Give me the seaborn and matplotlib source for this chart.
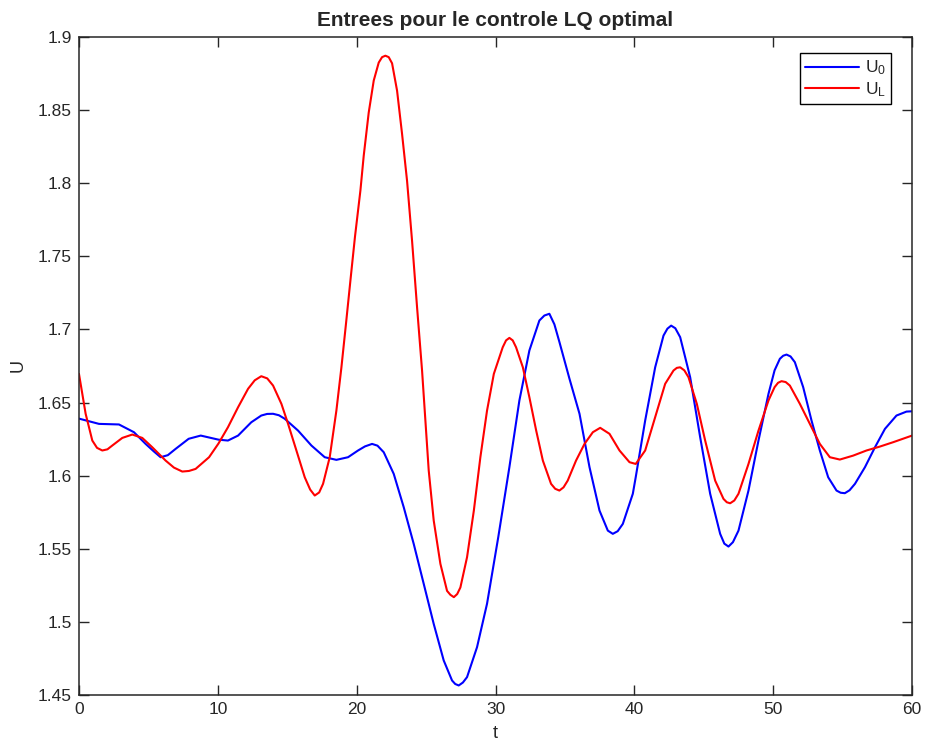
import numpy as np
import pandas as pd
import matplotlib
matplotlib.use("Agg")
import matplotlib.pyplot as plt
import seaborn as sns

# ---- data ----
t_u0 = [0, 1.44, 2.88, 3.96, 4.8, 5.4, 5.88, 6.4, 6.96, 7.9, 8.77, 10.05, 10.73, 11.46,
        12.41, 13.13, 13.55, 13.98, 14.4, 14.82, 15.78, 16.74, 17.7, 18.54, 19.38, 20.1,
        20.6, 21.11, 21.5, 21.95, 22.67, 23.39, 24.11, 24.83, 25.55, 26.27, 26.87, 27.1,
        27.35, 27.65, 27.95, 28.67, 29.39, 30.2, 31.0, 31.72, 32.44, 33.16, 33.52, 33.88,
        34.24, 34.6, 35.32, 36.05, 36.77, 37.49, 38.09, 38.45, 38.8, 39.17, 39.89,
        40.1, 40.78, 41.5, 42.1, 42.38, 42.65, 42.95, 43.3, 44.02, 44.74, 45.46, 46.18,
        46.48, 46.78, 47.1, 47.5, 48.22, 48.94, 49.66, 50.1, 50.48, 50.72, 50.96,
        51.25, 51.56, 52.16, 52.76, 53.36, 53.96, 54.56, 54.86, 55.16, 55.5, 55.89,
        56.61, 57.33, 58.05, 58.88, 59.6, 60]
u0 = [1.639, 1.6354, 1.635, 1.6297, 1.6217, 1.6165, 1.6126, 1.614, 1.6183, 1.6252,
      1.6274, 1.6246, 1.624, 1.6274, 1.6365, 1.6411, 1.6422, 1.6423, 1.6413, 1.6389,
      1.6308, 1.6206, 1.6126, 1.6108, 1.6126, 1.6172, 1.62, 1.6217, 1.6205, 1.616,
      1.6012, 1.5784, 1.5533, 1.526, 1.4986, 1.4736, 1.4599, 1.4575, 1.4565, 1.4585,
      1.4622, 1.4827, 1.5124, 1.558, 1.6058, 1.6514, 1.6856, 1.7061, 1.7095, 1.7107,
      1.7035, 1.6915, 1.6665, 1.6423, 1.6058, 1.5761, 1.5624, 1.5602, 1.562, 1.567,
      1.5876, 1.599, 1.6377, 1.6741, 1.6958, 1.7005, 1.7026, 1.7008, 1.6947, 1.6673,
      1.6263, 1.5876, 1.5602, 1.5535, 1.5515, 1.5545, 1.5624, 1.5898, 1.624, 1.6559,
      1.672, 1.6799, 1.682, 1.6828, 1.6815, 1.6776, 1.6605, 1.6377, 1.6172, 1.5989,
      1.5898, 1.5883, 1.588, 1.59, 1.5944, 1.6058, 1.6194, 1.632, 1.6411, 1.6438, 1.644]

t_ul = [0, 0.48, 0.96, 1.3, 1.68, 2.05, 2.4, 3.12, 3.84, 4.56, 5.28, 6.24, 6.84, 7.44,
        7.92, 8.4, 9.37, 10.05, 10.73, 11.46, 12.18, 12.66, 13.13, 13.56, 13.98, 14.58,
        15.06, 15.66, 16.26, 16.65, 16.98, 17.3, 17.58, 18.06, 18.54, 18.9, 19.24,
        19.58, 19.88, 20.27, 20.51, 20.87, 21.23, 21.59, 21.83, 22.07, 22.31, 22.55,
        22.91, 23.27, 23.63, 23.99, 24.35, 24.71, 24.95, 25.19, 25.55, 26.03, 26.51,
        26.75, 27.0, 27.24, 27.47, 27.95, 28.44, 28.91, 29.39, 29.88, 30.52, 30.76,
        31.0, 31.24, 31.48, 31.97, 32.44, 32.93, 33.41, 34.0, 34.3, 34.6, 34.9, 35.2,
        35.8, 36.41, 37.01, 37.54, 38.21, 38.93, 39.65, 40.1, 40.78, 41.5, 42.22,
        42.82, 43.06, 43.3, 43.6, 43.9, 44.5, 45.1, 45.82, 46.42, 46.66, 46.9, 47.2,
        47.5, 48.22, 48.94, 49.66, 50.1, 50.35, 50.6, 50.9, 51.2, 51.92, 52.64, 53.36,
        54.08, 54.8, 55.76, 56.72, 57.69, 58.65, 60]
ul = [1.6696, 1.6423, 1.624, 1.619, 1.6172, 1.618, 1.6206, 1.6258, 1.6281, 1.6258,
      1.6194, 1.6103, 1.6055, 1.6028, 1.6032, 1.6046, 1.6126, 1.622, 1.6331, 1.6468,
      1.6594, 1.6652, 1.668, 1.6665, 1.6616, 1.6491, 1.6354, 1.6172, 1.5989, 1.5905,
      1.5864, 1.5885, 1.5944, 1.6126, 1.6445, 1.6739, 1.7047, 1.7362, 1.7635, 1.795,
      1.8189, 1.8484, 1.8702, 1.8825, 1.8862, 1.8872, 1.8862, 1.882, 1.8633, 1.8337,
      1.8016, 1.7606, 1.7152, 1.6719, 1.6377, 1.6035, 1.5693, 1.5397, 1.5212, 1.5185,
      1.5169, 1.519, 1.5235, 1.5442, 1.5761, 1.6126, 1.6445, 1.6696, 1.6878, 1.6925,
      1.6942, 1.6925, 1.6878, 1.6741, 1.6536, 1.6308, 1.6103, 1.5944, 1.591, 1.5898,
      1.592, 1.5966, 1.6103, 1.6217, 1.6297, 1.6327, 1.6286, 1.6172, 1.6092, 1.608,
      1.6172, 1.64, 1.6628, 1.6719, 1.6737, 1.6741, 1.672, 1.6673, 1.6491, 1.624,
      1.5966, 1.5841, 1.5818, 1.5811, 1.583, 1.5876, 1.608, 1.6308, 1.6514, 1.6605,
      1.6635, 1.6646, 1.664, 1.6616, 1.6491, 1.6354, 1.6217, 1.6126, 1.611, 1.6137,
      1.6172, 1.6199, 1.6229, 1.6274]

x_ticks = [0, 10, 20, 30, 40, 50, 60]
y_ticks = [1.45, 1.5, 1.55, 1.6, 1.65, 1.7, 1.75, 1.8, 1.85, 1.9]
y_tick_labels = ["1.45", "1.5", "1.55", "1.6", "1.65", "1.7", "1.75", "1.8", "1.85", "1.9"]
series_labels = [r"$\mathregular{U_0}$", r"$\mathregular{U_L}$"]
title = "Entrees pour le controle LQ optimal"

# ---- plotting ----
sns.set_style("ticks")
plt.rcParams["font.family"] = ["Liberation Sans", "DejaVu Sans"]
plt.rcParams["mathtext.fontset"] = "custom"
plt.rcParams["mathtext.rm"] = "Liberation Sans"

fig = plt.figure(figsize=(9.28, 7.44), dpi=100)
ax = fig.add_axes([0.0851, 0.0659, 0.8977, 0.8844])

df0 = pd.DataFrame({"t": t_u0, "U": u0})
dfl = pd.DataFrame({"t": t_ul, "U": ul})
sns.lineplot(data=df0, x="t", y="U", ax=ax, color=(0, 0, 1), linewidth=1.5,
             sort=False, label=series_labels[0], solid_joinstyle="round")
sns.lineplot(data=dfl, x="t", y="U", ax=ax, color=(1, 0, 0), linewidth=1.5,
             sort=False, label=series_labels[1], solid_joinstyle="round")

ax.set_xlim(0, 60)
ax.set_ylim(1.45, 1.9)
ax.set_xticks(x_ticks)
ax.set_xticklabels([str(v) for v in x_ticks])
ax.set_yticks(y_ticks)
ax.set_yticklabels(y_tick_labels)
ax.tick_params(direction="in", length=7, width=1, top=True, right=True,
               labelsize=12.5, colors="#262626", pad=5)
for s in ax.spines.values():
    s.set_visible(True)
    s.set_linewidth(1.1)
    s.set_color("#262626")

ax.set_xlabel("t", fontsize=13, labelpad=6)
ax.set_ylabel("U", fontsize=13, labelpad=8)
ax.set_title(title, fontsize=15, fontweight="bold", pad=8)

leg = ax.legend(loc="upper right", bbox_to_anchor=(0.975, 0.975), fontsize=12.5,
                frameon=True, fancybox=False, framealpha=1, edgecolor="black",
                handlelength=3.1, handletextpad=0.35, borderpad=0.3, labelspacing=0.15,
                borderaxespad=0)
leg.get_frame().set_linewidth(1.0)

fig.savefig("out.png", dpi=100)
